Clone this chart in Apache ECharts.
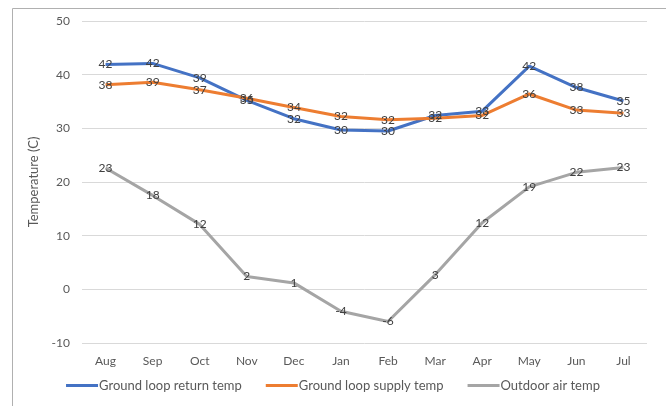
<!DOCTYPE html>
<html>
<head>
<meta charset="utf-8">
<script src="https://cdn.jsdelivr.net/npm/echarts@6/dist/echarts.min.js"></script>
<style>html,body{margin:0;padding:0;background:#fff;}#c{width:666px;height:406px;}</style>
</head>
<body>
<div id="c"></div>
<script>
const months = ['Aug','Sep','Oct','Nov','Dec','Jan','Feb','Mar','Apr','May','Jun','Jul'];
const returnTemp = [41.9, 42.1, 39.4, 35.2, 31.8, 29.7, 29.5, 32.4, 33.2, 41.6, 37.6, 35.1];
const supplyTemp = [38.1, 38.6, 37.2, 35.6, 33.9, 32.2, 31.6, 31.9, 32.4, 36.4, 33.4, 32.8];
const outdoorTemp = [22.6, 17.5, 12.1, 2.4, 1.2, -4.1, -6.0, 2.7, 12.4, 19.1, 21.8, 22.7];

const FONT = 'Lato, "Open Sans", sans-serif';
const chart = echarts.init(document.getElementById('c'));
const lbl = {
  show: true, position: 'inside', color: '#404040', fontSize: 12,
  fontFamily: FONT,
  formatter: p => Math.round(p.value)
};
function mk(name, data, color) {
  return {
    name, type: 'line', data, symbol: 'circle', symbolSize: 0.1, showSymbol: true,
    lineStyle: { color, width: 3 }, itemStyle: { color },
    label: lbl, z: 2
  };
}
chart.setOption({
  animation: false,
  textStyle: { fontFamily: FONT },
  graphic: [{
    type: 'rect', left: 10, top: 6, shape: { width: 660, height: 410 },
    style: { fill: 'none', stroke: '#b0b0b0', lineWidth: 1 }, silent: true
  }],
  grid: { left: 82, right: 19, top: 21, bottom: 63 },
  legend: {
    bottom: 9, left: 'center', itemWidth: 32, itemHeight: 3, itemGap: 24,
    icon: 'rect',
    textStyle: { color: '#595959', fontSize: 13, fontFamily: FONT, padding: [0, 0, 0, -4] },
    data: ['Ground loop return temp', 'Ground loop supply temp', 'Outdoor air temp']
  },
  xAxis: {
    type: 'category', data: months, boundaryGap: true,
    axisLine: { show: false }, axisTick: { show: false },
    axisLabel: { color: '#595959', fontSize: 12, margin: 12, fontFamily: FONT }
  },
  yAxis: {
    type: 'value', min: -10, max: 50, interval: 10,
    name: 'Temperature (C)', nameLocation: 'middle', nameGap: 37, nameRotate: 90,
    nameTextStyle: { color: '#595959', fontSize: 13, fontFamily: FONT },
    axisLine: { show: false }, axisTick: { show: false },
    axisLabel: { color: '#595959', fontSize: 12, margin: 12, fontFamily: FONT },
    splitLine: { lineStyle: { color: '#d9d9d9', width: 1 } }
  },
  series: [
    mk('Ground loop return temp', returnTemp, '#4472C4'),
    mk('Ground loop supply temp', supplyTemp, '#ED7D31'),
    mk('Outdoor air temp', outdoorTemp, '#A5A5A5')
  ]
});
</script>
</body>
</html>
